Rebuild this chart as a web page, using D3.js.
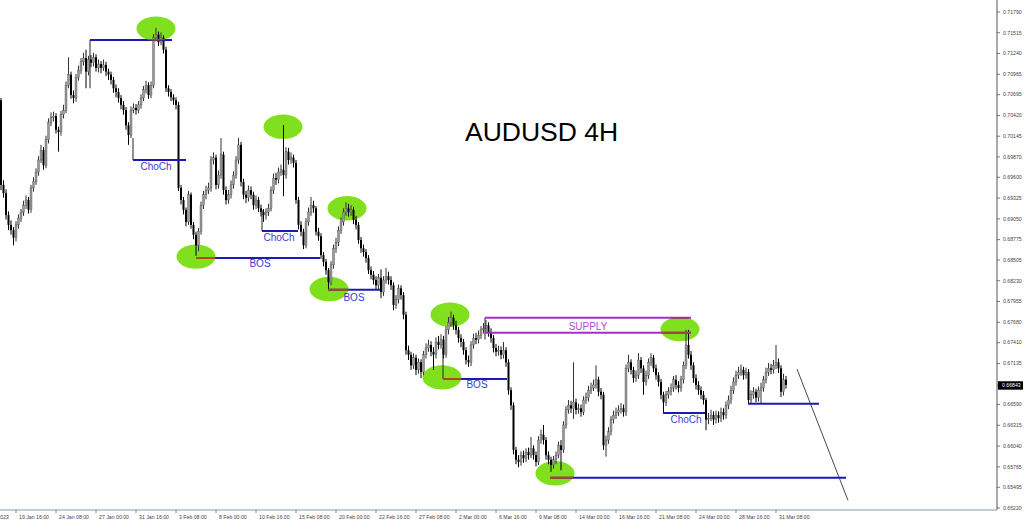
<!DOCTYPE html>
<html><head><meta charset="utf-8">
<script src="https://cdn.jsdelivr.net/npm/d3@7"></script>
<style>body{margin:0;background:#fff}svg{display:block}</style>
</head><body>
<svg id="c" width="1024" height="525"></svg>
<script>
// ---- DATA (prices in pips, 1 pip = 0.0001) ----
const firstOpen = 7062;
const closes = [
6950,6939,6910,6897,6890,6880,6897,6906,6914,6923,
6930,6917,6946,6954,6967,6983,6996,6976,7010,7033,
7039,7041,7023,7020,7043,7049,7082,7096,7069,7065,
7092,7102,7113,7118,7100,7116,7112,7119,7105,7110,
7105,7109,7100,7096,7089,7078,7073,7065,7056,7049,
7029,7016,7049,7052,7049,7056,7065,7076,7082,7069,
7082,7145,7149,7139,7145,7129,7078,7073,7066,7062,
7056,6946,6930,6917,6901,6937,6897,6884,6870,6888,
6923,6937,6943,6946,6983,6986,6950,6963,6990,6943,
6930,6937,6950,6963,6983,7003,6954,6937,6933,6943,
6937,6923,6930,6919,6914,6910,6914,6919,6943,6959,
6957,6967,6970,6963,6994,6983,6986,6979,6930,6897,
6888,6870,6901,6914,6923,6919,6888,6882,6857,6848,
6837,6821,6844,6866,6874,6890,6901,6914,6919,6914,
6917,6904,6897,6877,6866,6861,6853,6837,6831,6824,
6817,6827,6808,6824,6829,6824,6817,6791,6798,6813,
6804,6778,6731,6725,6711,6721,6705,6715,6702,6725,
6734,6738,6729,6725,6742,6738,6745,6725,6758,6768,
6774,6764,6758,6747,6742,6731,6718,6715,6738,6747,
6745,6751,6758,6760,6764,6755,6747,6734,6729,6731,
6725,6731,6715,6678,6658,6599,6586,6583,6592,6588,
6596,6592,6601,6592,6583,6612,6619,6612,6592,6586,
6579,6586,6592,6605,6599,6632,6652,6658,6654,6662,
6652,6654,6649,6665,6668,6678,6681,6685,6692,6676,
6672,6605,6612,6623,6639,6645,6649,6652,6654,6649,
6707,6715,6705,6694,6698,6718,6707,6689,6698,6715,
6721,6707,6698,6689,6672,6662,6672,6676,6681,6692,
6685,6681,6692,6711,6738,6725,6711,6694,6685,6678,
6672,6665,6639,6641,6645,6639,6645,6641,6649,6645,
6658,6665,6678,6689,6698,6702,6705,6698,6702,6665,
6672,6676,6668,6678,6681,6692,6702,6707,6705,6711,
6715,6707,6676,6692,6685];
const highs = [
7065,6956,6944,6915,6903,6894,6902,6911,6918,6929,
6936,6934,6950,6960,6972,6988,7003,7000,7015,7038,
7046,7047,7045,7027,7048,7056,7087,7119,7100,7075,
7097,7108,7118,7125,7129,7121,7122,7125,7123,7116,
7114,7116,7113,7104,7100,7093,7083,7078,7069,7061,
7053,7033,7054,7058,7057,7061,7070,7081,7088,7086,
7087,7150,7158,7153,7152,7148,7133,7082,7077,7070,
7066,7060,6950,6934,6920,6942,6940,6901,6888,6893,
6928,6942,6949,6953,6988,6993,6990,6969,7012,6994,
6948,6943,6956,6968,6988,7012,7007,6958,6942,6949,
6948,6941,6936,6934,6924,6918,6919,6925,6948,6965,
6966,6973,6977,7029,7000,6999,6993,6990,6983,6934,
6902,6892,6906,6920,6934,6929,6922,6893,6886,6861,
6852,6840,6849,6871,6880,6895,6907,6919,6927,6925,
6923,6921,6909,6901,6881,6871,6865,6857,6842,6836,
6829,6832,6838,6829,6840,6835,6829,6821,6804,6818,
6817,6808,6782,6737,6729,6727,6725,6720,6719,6730,
6740,6745,6743,6735,6748,6750,6752,6750,6763,6775,
6782,6778,6770,6762,6752,6746,6735,6724,6743,6753,
6754,6757,6763,6767,6771,6768,6760,6751,6739,6737,
6736,6742,6735,6719,6682,6662,6603,6592,6597,6598,
6601,6602,6616,6605,6597,6617,6626,6632,6616,6597,
6590,6591,6597,6610,6612,6637,6657,6665,6664,6715,
6667,6660,6659,6670,6675,6684,6688,6692,6711,6696,
6681,6676,6618,6629,6644,6651,6655,6658,6661,6659,
6712,6725,6719,6709,6704,6727,6722,6711,6704,6720,
6727,6725,6712,6702,6693,6676,6677,6682,6687,6697,
6698,6690,6697,6716,6758,6758,6730,6715,6699,6690,
6683,6677,6668,6648,6652,6650,6651,6650,6655,6654,
6663,6671,6684,6695,6704,6709,6712,6709,6708,6706,
6678,6682,6680,6683,6688,6697,6708,6714,6713,6718,
6738,6720,6711,6700,6697];
const lows = [
6943,6933,6904,6890,6884,6870,6875,6892,6901,6909,
6918,6912,6913,6941,6950,6962,6979,6970,6972,7005,
7028,7034,7018,6994,7015,7038,7045,7078,7064,7058,
7060,7088,7097,7108,7078,7095,7106,7107,7100,7099,
7098,7101,7094,7089,7083,7072,7066,7059,7050,7043,
7023,7003,7012,7045,7043,7045,7051,7061,7071,7064,
7065,7078,7140,7134,7135,7124,7073,7067,7061,7056,
7050,6942,6924,6911,6895,6897,6892,6878,6856,6862,
6884,6918,6931,6938,6941,6977,6944,6945,6958,6937,
6924,6925,6932,6945,6958,6978,6948,6931,6926,6928,
6931,6917,6918,6914,6908,6901,6904,6909,6915,6938,
6950,6952,6962,6935,6958,6977,6978,6973,6925,6891,
6882,6865,6866,6896,6909,6913,6883,6876,6852,6842,
6831,6811,6817,6839,6860,6869,6885,6896,6909,6908,
6909,6898,6891,6872,6860,6855,6847,6832,6825,6818,
6811,6812,6800,6803,6819,6818,6811,6784,6786,6793,
6798,6772,6725,6718,6705,6706,6698,6700,6694,6698,
6720,6729,6723,6705,6720,6732,6733,6720,6721,6752,
6762,6758,6752,6741,6735,6725,6712,6709,6710,6733,
6739,6740,6746,6753,6755,6749,6741,6728,6723,6724,
6719,6720,6709,6672,6652,6593,6580,6576,6578,6582,
6583,6586,6588,6586,6577,6579,6607,6606,6586,6580,
6570,6574,6580,6588,6572,6595,6627,6647,6648,6640,
6646,6647,6643,6645,6660,6663,6673,6677,6680,6670,
6666,6599,6590,6607,6618,6634,6640,6644,6647,6643,
6644,6702,6699,6688,6689,6693,6701,6672,6684,6693,
6710,6702,6692,6683,6666,6649,6657,6667,6671,6676,
6679,6675,6676,6687,6706,6720,6705,6688,6679,6672,
6666,6659,6625,6633,6637,6632,6634,6635,6636,6639,
6640,6653,6660,6673,6684,6693,6697,6692,6693,6660,
6660,6667,6662,6663,6660,6676,6687,6697,6699,6700,
6706,6701,6669,6671,6680];

const yTickLabels = ["0.71790","0.71515","0.71240","0.70965","0.70695","0.70420","0.70145","0.69870","0.69600","0.69325","0.69050","0.68775","0.68505","0.68230","0.67955","0.67680","0.67410","0.67135","0.66843","0.66590","0.66315","0.66040","0.65765","0.65495","0.65220"];
const xTickLabels = ["17 Jan 2023","19 Jan 16:00","24 Jan 08:00","27 Jan 00:00","31 Jan 16:00","3 Feb 08:00","8 Feb 00:00","10 Feb 16:00","15 Feb 08:00","20 Feb 00:00","22 Feb 16:00","27 Feb 08:00","2 Mar 00:00","6 Mar 16:00","9 Mar 08:00","14 Mar 00:00","16 Mar 16:00","21 Mar 08:00","24 Mar 00:00","28 Mar 16:00","31 Mar 08:00"];
const xTickBars = [-10,6,22,38,54,70,86,102,118,134,150,166,182,198,214,230,246,262,278,294,310];
const lastPrice = "0.66843";
const title = "AUDUSD 4H";

// annotations: [fromBar, toBar, pips]
const structureLines = [[35.6,68.4,7142],[52.8,74,6983],[78,127.6,6853],[104.4,118.8,6889],[130.8,151.6,6811],[176.8,202.4,6693],[264.8,281.6,6648],[298.8,327.2,6660],[219.6,338,6562]];
const supplyLines = [[193.6,276,6774],[193.6,276,6754]];
const guideLines = [[35.6,7142,7078],[52.8,7012,6983],[104.4,6917,6889],[176.8,6734,6693],[193.6,6774,6745]];
const swingPoints = [[62,7157],[112.8,7027],[78,6855],[138.4,6919],[131.2,6812],[179.6,6778],[176.4,6695],[271.6,6759],[221.6,6568]];
const structureLabels = [["ChoCh",62,6974],["BOS",103.6,6846],["ChoCh",111.2,6880],["BOS",141.2,6801],["BOS",190.4,6686],["ChoCh",274,6640]];
const supplyLabel = ["SUPPLY",234.8,6763];
const projection = [[318.4,6706],[338.8,6532]];

// ---- CHART ----
const svg = d3.select("#c");
const W = 1024, H = 525, plotR = 997, plotB = 510;
const x = d3.scaleLinear().domain([0, 398]).range([1, 996]);
const y = d3.scaleLinear().domain([0.65220, 0.71790]).range([508, 12]);
const P = v => v / 10000;

svg.append("rect").attr("width", W).attr("height", H).attr("fill", "#fff");
svg.append("defs").append("clipPath").attr("id","plot").append("rect")
  .attr("x",0).attr("y",0).attr("width",plotR).attr("height",plotB);
const ellClip = svg.select("defs").append("clipPath").attr("id","ell");

const bars = closes.map((c,i)=>({i, o: i===0?firstOpen:closes[i-1], c, h: highs[i], l: lows[i]}));

const g = svg.append("g").attr("clip-path","url(#plot)");

// swing ellipses
const RX = 19.5, RY = 12.2;
g.append("g").selectAll("ellipse").data(swingPoints).join("ellipse")
  .attr("cx", d=>x(d[0])).attr("cy", d=>y(P(d[1]))).attr("rx", RX).attr("ry", RY)
  .attr("fill", "#80e01e");
ellClip.selectAll("ellipse").data(swingPoints).join("ellipse")
  .attr("cx", d=>x(d[0])).attr("cy", d=>y(P(d[1]))).attr("rx", RX).attr("ry", RY);

// candles
const cg = g.append("g");
cg.selectAll("line").data(bars).join("line")
  .attr("x1", d=>x(d.i)).attr("x2", d=>x(d.i))
  .attr("y1", d=>y(P(Math.max(d.h,d.o,d.c)))).attr("y2", d=>y(P(Math.min(d.l,d.o,d.c))))
  .attr("stroke", d=>d.c>=d.o?"#333":"#000").attr("stroke-width", 1);
cg.selectAll("rect").data(bars).join("rect")
  .attr("x", d=>x(d.i)-1).attr("width", 2)
  .attr("y", d=>y(P(Math.max(d.o,d.c))))
  .attr("height", d=>Math.max(0.9, y(P(Math.min(d.o,d.c))) - y(P(Math.max(d.o,d.c)))))
  .attr("fill", d=>d.c>=d.o?"#9a9a9a":"#000")
  .attr("stroke", d=>d.c>=d.o?"#444":"none").attr("stroke-width", 0.35);

// guide verticals
g.append("g").selectAll("line").data(guideLines).join("line")
  .attr("x1", d=>x(d[0])).attr("x2", d=>x(d[0]))
  .attr("y1", d=>y(P(d[1]))).attr("y2", d=>y(P(d[2])))
  .attr("stroke","#222").attr("stroke-width",1);

function drawLevels(sel, data, color, w){
  sel.selectAll("line").data(data).join("line")
    .attr("x1", d=>x(d[0])).attr("x2", d=>x(d[1]))
    .attr("y1", d=>y(P(d[2]))).attr("y2", d=>y(P(d[2])))
    .attr("stroke", color).attr("stroke-width", w);
}
drawLevels(g.append("g"), structureLines, "#1a1ab4", 2);
drawLevels(g.append("g"), supplyLines, "#a52ec8", 2);
// tint of lines inside ellipses
const ov = g.append("g").attr("clip-path","url(#ell)");
drawLevels(ov.append("g"), structureLines, "#b04a1c", 2);
drawLevels(ov.append("g"), supplyLines, "#a04040", 2);

// projection line
g.append("line").attr("x1", x(projection[0][0])).attr("y1", y(P(projection[0][1])))
  .attr("x2", x(projection[1][0])).attr("y2", y(P(projection[1][1])))
  .attr("stroke","#333").attr("stroke-width",0.9);

// labels
g.append("g").selectAll("text").data(structureLabels).join("text")
  .attr("x", d=>x(d[1])).attr("y", d=>y(P(d[2]))+3.6)
  .attr("text-anchor","middle").attr("font-family","Liberation Sans, Arial, sans-serif")
  .attr("font-size",10).attr("fill","#3b3bd0").text(d=>d[0]);
g.append("text").attr("x", x(supplyLabel[1])).attr("y", y(P(supplyLabel[2]))+3.6)
  .attr("text-anchor","middle").attr("font-family","Liberation Sans, Arial, sans-serif")
  .attr("font-size",10).attr("fill","#b048d2").text(supplyLabel[0]);

// title
svg.append("text").attr("x", 465).attr("y", 141).attr("font-family","Liberation Sans, Arial, sans-serif")
  .attr("font-size",26.5).attr("fill","#000").text(title);

// axes
svg.append("line").attr("x1",plotR).attr("x2",plotR).attr("y1",0).attr("y2",plotB)
  .attr("stroke","#555").attr("stroke-width",1);
svg.append("line").attr("x1",0).attr("x2",plotR).attr("y1",plotB).attr("y2",plotB)
  .attr("stroke","#7f9cb0").attr("stroke-width",1.2);

const yt = svg.append("g");
yt.selectAll("line").data(yTickLabels).join("line")
  .attr("x1",plotR).attr("x2",plotR+3).attr("y1",d=>y(+d)).attr("y2",d=>y(+d))
  .attr("stroke","#555").attr("stroke-width",0.8);
yt.selectAll("text").data(yTickLabels.filter(d=>d!==lastPrice)).join("text")
  .attr("x",1003).attr("y",d=>y(+d)+1.8)
  .attr("font-family","Liberation Sans, Arial, sans-serif").attr("font-size",5.2)
  .attr("fill","#444").text(d=>d);
svg.append("rect").attr("x",998).attr("y",y(+lastPrice)-4.2).attr("width",25).attr("height",8.4).attr("fill","#000");
svg.append("text").attr("x",1002).attr("y",y(+lastPrice)+1.9)
  .attr("font-family","Liberation Sans, Arial, sans-serif").attr("font-size",5.2)
  .attr("fill","#fff").text(lastPrice);

const xt = svg.append("g");
xt.selectAll("line").data(xTickBars).join("line")
  .attr("x1",d=>x(d)).attr("x2",d=>x(d)).attr("y1",plotB).attr("y2",plotB+3)
  .attr("stroke","#666").attr("stroke-width",0.8);
// first (date) label is right-aligned so only its year end shows, as in MT4
xt.selectAll("text").data(xTickLabels).join("text")
  .attr("x",(d,i)=> i===0 ? x(xTickBars[i]) + 33 : x(xTickBars[i])+3).attr("y",519)
  .attr("text-anchor",(d,i)=> i===0 ? "end" : "start")
  .attr("font-family","Liberation Sans, Arial, sans-serif").attr("font-size",5.2)
  .attr("fill","#444").text(d=>d);
</script>
</body></html>
